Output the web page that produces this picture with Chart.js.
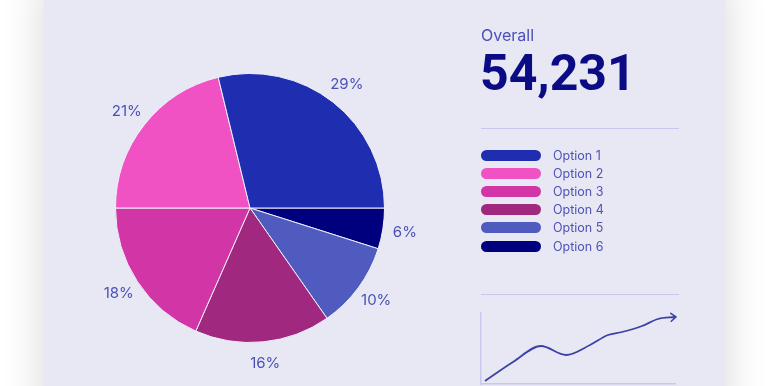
<!DOCTYPE html>
<html><head><meta charset="utf-8">
<script src="https://cdn.jsdelivr.net/npm/chart.js@4.4.1/dist/chart.umd.min.js"></script>
<style>
html,body{margin:0;padding:0;width:768px;height:386px;overflow:hidden;background:#fff;}
#card{position:absolute;left:44px;top:-20px;width:681px;height:440px;background:#e8e8f5;box-shadow:0 0 40px rgba(0,0,0,0.16);}
#pie{position:absolute;left:0;top:0;}
#spark{position:absolute;left:470px;top:300px;}
.t{position:absolute;font-family:Inter,"Noto Sans",sans-serif;}
#overall{left:481px;top:25px;font-size:16px;color:#4a50b5;}
#total{left:480px;top:43px;font-family:Roboto,sans-serif;font-weight:700;font-size:50px;color:#0b0b85;line-height:60px;}
.rule{position:absolute;left:481px;width:198px;height:1.5px;background:#c7c9ec;}
#legend{position:absolute;left:481px;top:146px;}
.row{height:18.2px;display:flex;align-items:center;}
.pill{width:60px;height:11px;border-radius:6px;margin-right:12px;}
.lab{font-family:Inter,"Noto Sans",sans-serif;font-size:12.5px;color:#4d52b5;}
</style></head>
<body>
<div id="card"></div>
<canvas id="pie" width="768" height="386"></canvas>
<div class="t" id="overall">Overall</div>
<div class="t" id="total"></div>
<div class="rule" style="top:127.5px"></div>
<div class="rule" style="top:293.5px"></div>
<div id="legend"></div>
<canvas id="spark" width="220" height="86"></canvas>
<script>
const categories = ["Option 1","Option 2","Option 3","Option 4","Option 5","Option 6"];
// slice sizes as drawn, and the printed labels
const shares = [28.8,21.2,18.4,16.3,10.4,4.9];
const shareLabels = ["29%","21%","18%","16%","10%","6%"];
const colors = ["#1f2eb0","#f052c4","#d236a6","#a0287f","#4f5bbf","#00007f"];
const overallValue = 54231;
const sparkX = [0,28,56,81,105,123,137,157,173,190];
const sparkY = [3,22,38,29,39,49,52,58,65,67];

document.getElementById('total').textContent = overallValue.toLocaleString('en-US');
const leg = document.getElementById('legend');
categories.forEach((c,i)=>{
  const r=document.createElement('div');r.className='row';
  r.innerHTML='<div class="pill" style="background:'+colors[i]+'"></div><div class="lab">'+c+'</div>';
  leg.appendChild(r);
});

// drawn clockwise from 3 o'clock in reverse category order
const order = [5,4,3,2,1,0];
const pctLabels = {
  id:'pctLabels',
  afterDatasetsDraw(chart){
    const ctx=chart.ctx; const meta=chart.getDatasetMeta(0);
    ctx.save();
    ctx.font='400 15px Inter, "Noto Sans", sans-serif';
    ctx.fillStyle='#4a50b5';ctx.textAlign='center';ctx.textBaseline='middle';
    meta.data.forEach((arc,i)=>{
      const p=arc.getProps(['x','y','startAngle','endAngle','outerRadius'],true);
      const a=(p.startAngle+p.endAngle)/2; const r=p.outerRadius*1.165;
      ctx.fillText(shareLabels[order[i]], p.x+Math.cos(a)*r, p.y+Math.sin(a)*r);
    });
    ctx.restore();
  }
};
new Chart(document.getElementById('pie'),{
  type:'pie',
  data:{labels:order.map(i=>categories[i]),datasets:[{data:order.map(i=>shares[i]),backgroundColor:order.map(i=>colors[i]),borderColor:'#eeeefa',borderWidth:1}]},
  options:{responsive:false,animation:false,rotation:90,
    layout:{padding:{left:115,right:383,top:73,bottom:43}},
    plugins:{legend:{display:false},tooltip:{enabled:false}}},
  plugins:[pctLabels]
});

const arrowHead = {
  id:'arrowHead',
  afterDatasetsDraw(chart){
    const pts=chart.getDatasetMeta(0).data; const n=pts.length;
    const a=pts[n-1], b=pts[n-2];
    const ang=Math.atan2(a.y-b.y,a.x-b.x)*0.6;
    const ctx=chart.ctx; ctx.save();
    ctx.strokeStyle='#3b41a5';ctx.lineWidth=1.6;ctx.lineCap='round';ctx.lineJoin='round';
    ctx.translate(a.x,a.y);ctx.rotate(ang);
    ctx.beginPath();ctx.moveTo(-4,-4);ctx.lineTo(1,0);ctx.lineTo(-4,4);ctx.stroke();
    ctx.restore();
  }
};
new Chart(document.getElementById('spark'),{
  type:'line',
  data:{datasets:[{data:sparkX.map((x,i)=>({x:x,y:sparkY[i]})),borderColor:'#3b41a5',borderWidth:1.8,pointRadius:0,cubicInterpolationMode:'monotone',clip:false}]},
  options:{responsive:false,animation:false,
    layout:{padding:{left:11,top:13,right:15,bottom:2}},
    plugins:{legend:{display:false},tooltip:{enabled:false}},
    scales:{
      x:{type:'linear',min:-4,max:190,ticks:{display:false},grid:{display:false,drawTicks:false,tickLength:0},border:{display:true,color:'#c7c9ec',width:1.5}},
      y:{min:0,max:71,ticks:{display:false},grid:{display:false,drawTicks:false,tickLength:0},border:{display:true,color:'#c7c9ec',width:1.5}}
    }}
  ,plugins:[arrowHead]
});
</script>
</body></html>
